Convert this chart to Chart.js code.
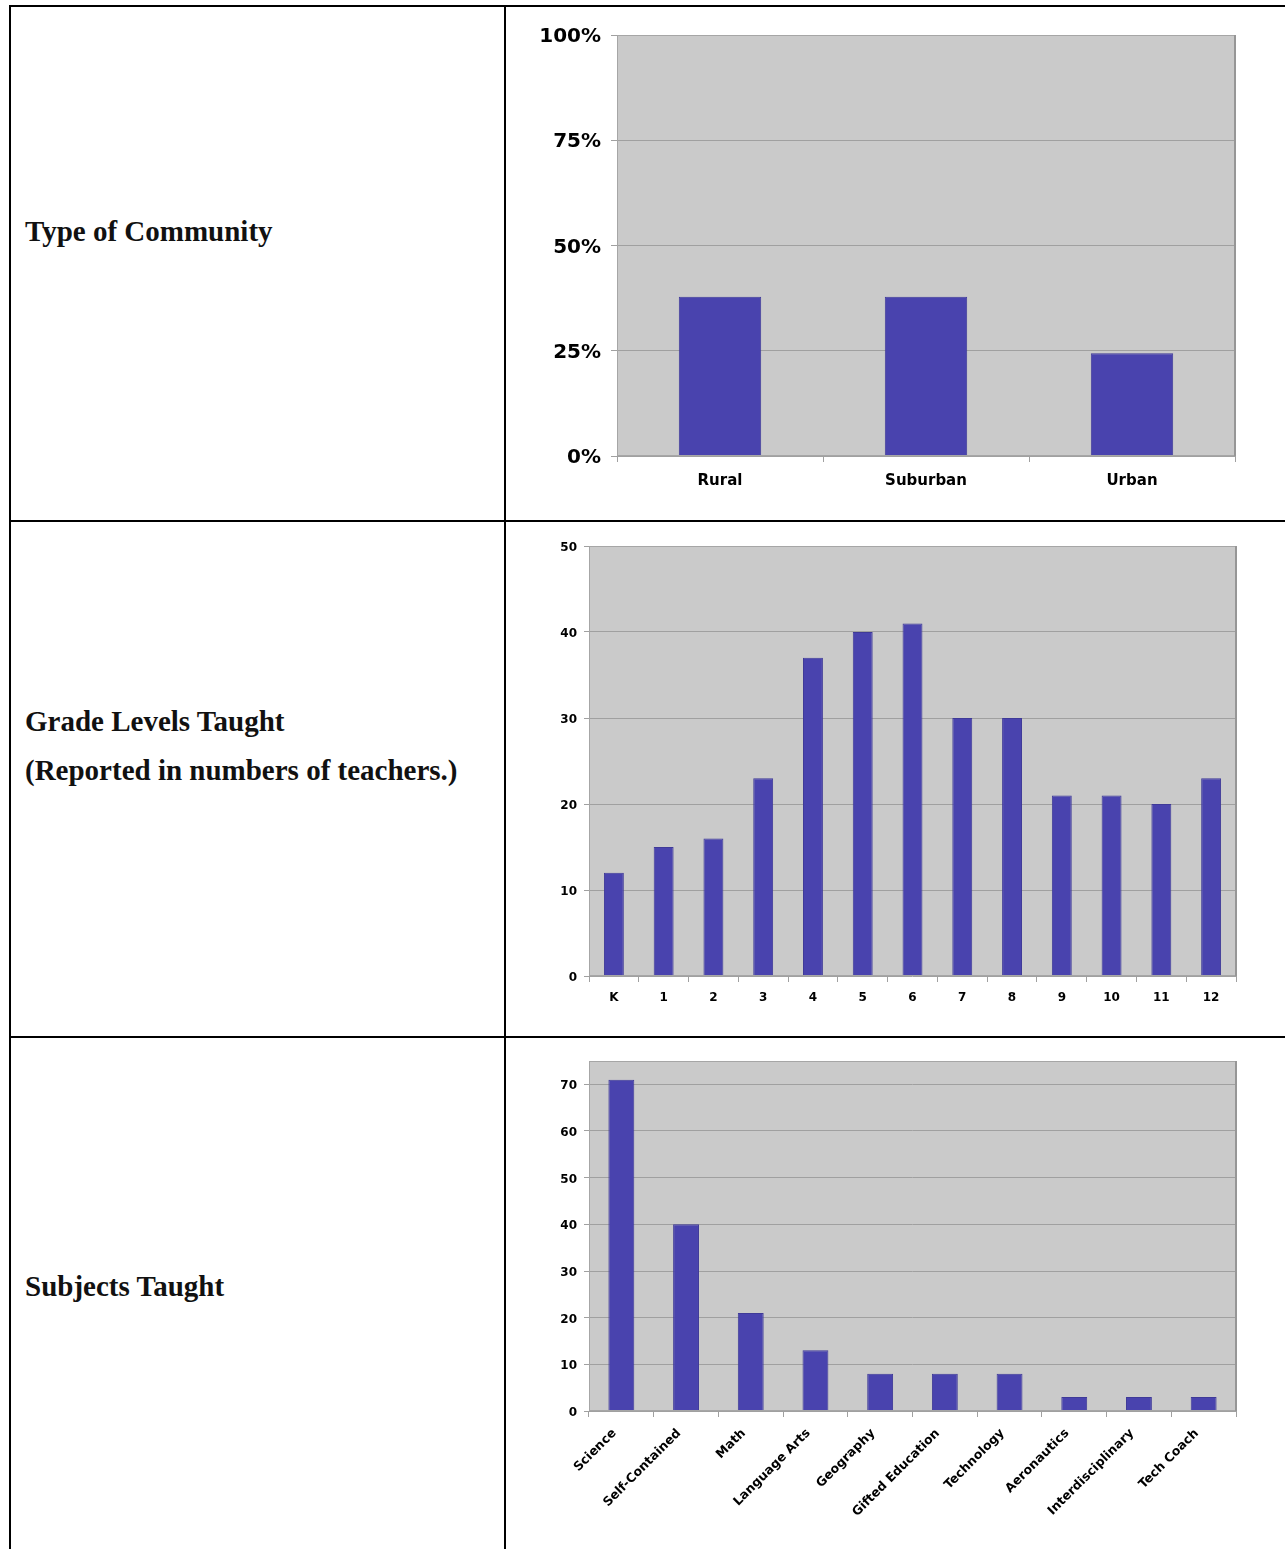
<!DOCTYPE html>
<html lang="en">
<head>
  <meta charset="UTF-8" />
  <title>Survey results</title>
  <script src="https://cdn.jsdelivr.net/npm/chart.js"></script>
  <style>
    body {
      margin: 0;
      width: 1285px;
      height: 1549px;
      overflow: hidden;
      background: #fff;
      position: relative;
    }
    .line { position: absolute; background: #000; }
    .label {
      position: absolute;
      left: 25px;
      font-family: "Liberation Serif", "Times New Roman", serif;
      font-weight: bold;
      font-size: 29px;
      line-height: 30px;
      color: #111;
      white-space: nowrap;
    }
    .box { position: absolute; left: 507px; width: 778px; }
  </style>
</head>
<body>
  <!-- table rules -->
  <div class="line" style="left:9px; top:5px; width:1276px; height:2px;"></div>
  <div class="line" style="left:9px; top:520px; width:1276px; height:2px;"></div>
  <div class="line" style="left:9px; top:1036px; width:1276px; height:2px;"></div>
  <div class="line" style="left:9px; top:5px; width:2px; height:1544px;"></div>
  <div class="line" style="left:504px; top:5px; width:2px; height:1544px;"></div>

  <div class="label" style="top:216px;">Type of Community</div>
  <div class="label" style="top:706px;">Grade Levels Taught</div>
  <div class="label" style="top:755px;">(Reported in numbers of teachers.)</div>
  <div class="label" style="top:1271px;">Subjects Taught</div>

  <div class="box" style="top:8px; height:512px;"><canvas id="c1"></canvas></div>
  <div class="box" style="top:523px; height:513px;"><canvas id="c2"></canvas></div>
  <div class="box" style="top:1039px; height:510px;"><canvas id="c3"></canvas></div>

  <script>
    // data
    const communityLabels = ['Rural', 'Suburban', 'Urban'];
    const communityShare = [0.378, 0.378, 0.244];

    const gradeLabels = ['K', '1', '2', '3', '4', '5', '6', '7', '8', '9', '10', '11', '12'];
    const gradeCounts = [12, 15, 16, 23, 37, 40, 41, 30, 30, 21, 21, 20, 23];

    const subjectLabels = ['Science', 'Self-Contained', 'Math', 'Language Arts', 'Geography',
      'Gifted Education', 'Technology', 'Aeronautics', 'Interdisciplinary', 'Tech Coach'];
    const subjectCounts = [71, 40, 21, 13, 8, 8, 8, 3, 3, 3];

    const BAR = '#4943ae';
    const FONT = '"DejaVu Sans", Verdana, sans-serif';

    // grey plot panel with a thin frame
    const panel = {
      id: 'panel',
      beforeDraw(chart) {
        const { ctx, chartArea: a } = chart;
        ctx.save();
        ctx.fillStyle = '#cacaca';
        ctx.fillRect(a.left, a.top, a.right - a.left, a.bottom - a.top);
        ctx.restore();
      },
      afterDraw(chart) {
        const { ctx, chartArea: a } = chart;
        ctx.save();
        ctx.strokeStyle = '#a6a6a6';
        ctx.lineWidth = 1;
        ctx.strokeRect(a.left + 0.5, a.top + 0.5, a.right - a.left - 1, a.bottom - a.top - 1);
        ctx.strokeStyle = '#969696';
        ctx.lineWidth = 2;
        ctx.beginPath();
        ctx.moveTo(a.right, a.top);
        ctx.lineTo(a.right, a.bottom);
        ctx.stroke();
        ctx.restore();
      }
    };

    function makeChart(id, labels, values, o) {
      return new Chart(document.getElementById(id), {
        type: 'bar',
        data: {
          labels: labels,
          datasets: [{
            data: values,
            backgroundColor: BAR,
            borderColor: '#3f3a98',
            borderWidth: 1,
            barPercentage: 0.4,
            categoryPercentage: 1.0
          }]
        },
        options: {
          responsive: true,
          maintainAspectRatio: false,
          animation: false,
          layout: { padding: { top: o.top, right: o.right, left: 0, bottom: 0 } },
          plugins: { legend: { display: false }, tooltip: { enabled: false } },
          scales: {
            x: {
              border: { display: false },
              grid: { offset: true, drawOnChartArea: false, tickLength: 6, color: '#a0a0a0' },
              ticks: {
                color: '#000',
                font: { family: FONT, weight: 'bold', size: o.xSize },
                padding: o.xPad,
                labelOffset: o.xShift || 0,
                maxRotation: o.rot, minRotation: o.rot,
                autoSkip: false
              },
              afterFit(s) { s.height = o.xHeight; }
            },
            y: {
              min: 0, max: o.max,
              border: { display: false },
              grid: { color: '#a0a0a0', tickLength: o.yTick },
              ticks: {
                stepSize: o.step,
                color: '#000',
                font: { family: FONT, weight: 'bold', size: o.ySize },
                padding: o.yPad,
                labelOffset: o.yShift,
                callback: o.fmt
              },
              afterBuildTicks(s) {
                if (o.keep) s.ticks = s.ticks.filter(t => t.value <= o.keep);
              },
              afterFit(s) { s.width = o.yWidth; }
            }
          }
        },
        plugins: [panel]
      });
    }

    makeChart('c1', communityLabels, communityShare, {
      top: 27, right: 50, xHeight: 64, yWidth: 110,
      max: 1, step: 0.25, fmt: v => Math.round(v * 100) + '%',
      xSize: 15, ySize: 20, xPad: 10, yPad: 10, yTick: 6, yShift: 2, rot: 0
    });

    makeChart('c2', gradeLabels, gradeCounts, {
      top: 23, right: 49, xHeight: 60, yWidth: 82,
      max: 50, step: 10, fmt: v => v,
      xSize: 12, ySize: 12, xPad: 9, yPad: 7, yTick: 5, yShift: 2, rot: 0
    });

    makeChart('c3', subjectLabels, subjectCounts, {
      top: 22, right: 49, xHeight: 138, yWidth: 82,
      max: 75, step: 10, keep: 70, fmt: v => v,
      xSize: 12.5, ySize: 12, xPad: 9, xShift: -7, yPad: 7, yTick: 5, yShift: 2, rot: 45
    });
  </script>
</body>
</html>
